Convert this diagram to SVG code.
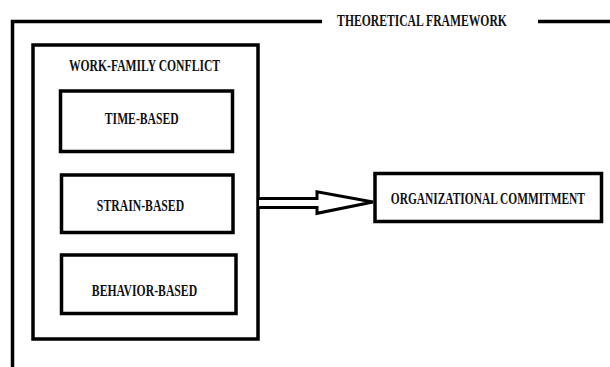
<svg xmlns="http://www.w3.org/2000/svg" width="610" height="367" viewBox="0 0 610 367">
<style>
.box{fill:#fff;stroke:#000;stroke-width:3.5}
.line{fill:none;stroke:#000;stroke-width:3.5}
.arrow{fill:#fff;stroke:#000;stroke-width:3;stroke-linejoin:miter}
.t{font-family:"Liberation Serif","Times New Roman",serif;font-weight:bold;font-size:17px;fill:#111;text-anchor:middle}
</style>
<rect width="610" height="367" fill="#fff"/>
<g id="frame">
<path class="line" d="M12.5 367 V21.5 H322 M538 21.5 H610"/>
<text class="t" transform="translate(422 26) scale(0.685 1)">THEORETICAL FRAMEWORK</text>
</g>
<g id="work-family-conflict">
<rect class="box" x="33" y="45" width="225" height="294"/>
<text class="t" transform="translate(144.5 70.5) scale(0.685 1)">WORK-FAMILY CONFLICT</text>
</g>
<g id="time-based">
<rect class="box" x="60.5" y="91" width="172" height="60.5"/>
<text class="t" transform="translate(141.7 124.3) scale(0.685 1)">TIME-BASED</text>
</g>
<g id="strain-based">
<rect class="box" x="61.5" y="175" width="171.5" height="57.5"/>
<text class="t" transform="translate(140.5 211) scale(0.69 1)">STRAIN-BASED</text>
</g>
<g id="behavior-based">
<rect class="box" x="61.5" y="255" width="174.5" height="58.5"/>
<text class="t" transform="translate(144.5 296) scale(0.69 1)">BEHAVIOR-BASED</text>
</g>
<g id="organizational-commitment">
<rect class="box" x="375" y="173.5" width="226.5" height="48"/>
<text class="t" transform="translate(487.9 204) scale(0.672 1)">ORGANIZATIONAL COMMITMENT</text>
</g>
<g id="connectors">
<path class="arrow" d="M259 198.5 H317 V191.7 L373 202 L317 213.3 V207.5 H259"/>
</g>
</svg>
